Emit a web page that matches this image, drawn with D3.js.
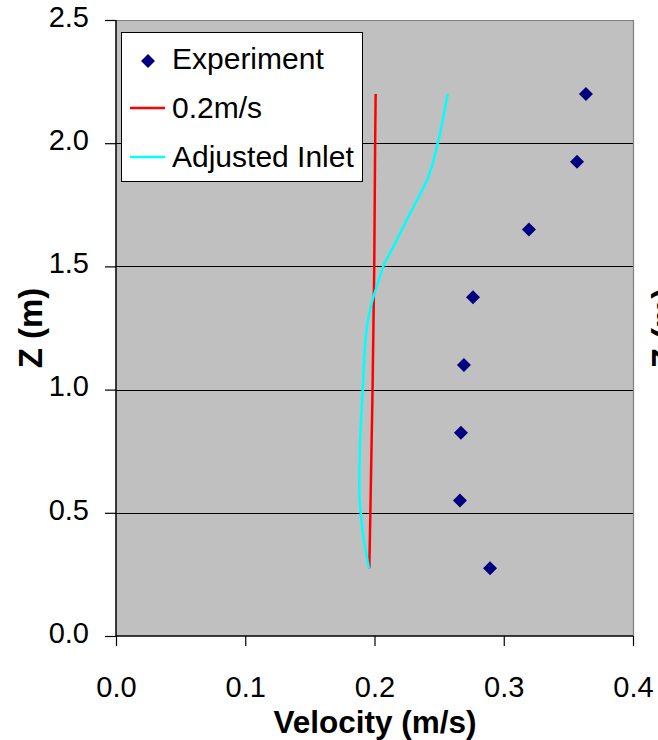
<!DOCTYPE html>
<html>
<head>
<meta charset="utf-8">
<script src="https://cdn.jsdelivr.net/npm/d3@7"></script>
<style>
  html, body { margin: 0; padding: 0; background: #fff; }
  svg { display: block; font-family: "Liberation Sans", Arial, sans-serif; }
</style>
</head>
<body>
<svg id="chart" width="658" height="740"></svg>
<script>
// Measured velocity at each height (diamonds)
const expHeights = [0.275, 0.55, 0.825, 1.1, 1.375, 1.65, 1.925, 2.2];
const expVelocity = [0.2894, 0.2661, 0.2669, 0.2692, 0.2762, 0.3195, 0.3567, 0.3636];

// Simulated profile with uniform 0.2 m/s inlet
const uniformHeights = [0.275, 0.5, 1.0, 1.5, 2.0, 2.2];
const uniformVelocity = [0.1960, 0.1968, 0.1985, 0.1998, 0.2005, 0.2009];

// Simulated profile with adjusted inlet
const adjustedHeights = [0.275, 0.4, 0.5, 0.6, 0.75, 1.0, 1.25, 1.375, 1.45, 1.5, 1.58, 1.715, 1.864, 2.0, 2.2];
const adjustedVelocity = [0.1957, 0.1915, 0.1893, 0.1882, 0.1886, 0.1909, 0.1940, 0.1991, 0.2037, 0.2068, 0.2146, 0.2275, 0.2417, 0.2489, 0.2566];

const xTicks = [0.0, 0.1, 0.2, 0.3, 0.4];
const yTicks = [0.0, 0.5, 1.0, 1.5, 2.0, 2.5];

const legendLabels = ["Experiment", "0.2m/s", "Adjusted Inlet"];

const svg = d3.select("#chart");
const plotLeft = 116, plotRight = 633, plotTop = 20, plotBottom = 636;

const x = d3.scaleLinear().domain([0, 0.4]).range([plotLeft, plotRight]);
const y = d3.scaleLinear().domain([0, 2.5]).range([plotBottom, plotTop]);

// plot area
svg.append("rect")
  .attr("x", plotLeft).attr("y", plotTop)
  .attr("width", plotRight - plotLeft).attr("height", plotBottom - plotTop)
  .attr("fill", "#c0c0c0");

// horizontal gridlines
svg.append("g").selectAll("line")
  .data(yTicks.filter(d => d > 0 && d < 2.5))
  .join("line")
  .attr("x1", plotLeft).attr("x2", plotRight)
  .attr("y1", d => Math.round(y(d)) + 0.5).attr("y2", d => Math.round(y(d)) + 0.5)
  .attr("stroke", "#000").attr("stroke-width", 1);

// plot-area frame (top and right)
svg.append("path")
  .attr("d", `M${plotLeft},${plotTop + 0.5}H${plotRight + 0.5}V${plotBottom}`)
  .attr("fill", "none").attr("stroke", "#808080").attr("stroke-width", 1.2);

// axes
const xAxis = d3.axisBottom(x).tickValues(xTicks).tickSize(10).tickPadding(30)
  .tickFormat(d3.format(".1f"));
const yAxis = d3.axisLeft(y).tickValues(yTicks).tickSize(11).tickPadding(16)
  .tickFormat(d3.format(".1f"));

const gx = svg.append("g").attr("transform", `translate(0,${plotBottom})`).call(xAxis);
const gy = svg.append("g").attr("transform", `translate(${plotLeft},0)`).call(yAxis);
[gx, gy].forEach(g => {
  g.select(".domain").attr("stroke", "#000").attr("stroke-width", 1.5);
  g.selectAll(".tick line").attr("stroke", "#000").attr("stroke-width", 1.2);
  g.selectAll(".tick text").attr("fill", "#000")
    .style("font-family", "'Liberation Sans', Arial, sans-serif")
    .style("font-size", "29px");
});
gy.selectAll(".tick text").attr("dy", "0.22em");
gx.select(".domain").attr("d", `M${plotLeft},0H${plotRight}`);
gy.select(".domain").attr("d", `M0,${plotBottom}V${plotTop}`);

// lines
const lineGen = d3.line().curve(d3.curveMonotoneY);

svg.append("path")
  .datum(uniformHeights.map((h, i) => [x(uniformVelocity[i]), y(h)]))
  .attr("d", lineGen)
  .attr("fill", "none").attr("stroke", "#ff0000").attr("stroke-width", 2.5);

svg.append("path")
  .datum(adjustedHeights.map((h, i) => [x(adjustedVelocity[i]), y(h)]))
  .attr("d", lineGen)
  .attr("fill", "none").attr("stroke", "#00ffff").attr("stroke-width", 2.5);

// experiment markers
const diamond = d3.symbol().type(d3.symbolSquare).size(98);
svg.append("g").selectAll("path")
  .data(expHeights.map((h, i) => [expVelocity[i], h]))
  .join("path")
  .attr("d", diamond)
  .attr("transform", d => `translate(${x(d[0])},${y(d[1])}) rotate(45)`)
  .attr("fill", "#000080");

// legend
const lg = svg.append("g");
lg.append("rect")
  .attr("x", 121.5).attr("y", 32.5).attr("width", 241).attr("height", 149)
  .attr("fill", "#fff").attr("stroke", "#000").attr("stroke-width", 1);
const keyY = [61, 108, 157];
const labelY = [68.5, 118, 167];
lg.append("path").attr("d", diamond)
  .attr("transform", `translate(148,${keyY[0]}) rotate(45)`).attr("fill", "#000080");
lg.append("line").attr("x1", 130).attr("x2", 165).attr("y1", keyY[1]).attr("y2", keyY[1])
  .attr("stroke", "#ff0000").attr("stroke-width", 2.5);
lg.append("line").attr("x1", 130).attr("x2", 165).attr("y1", keyY[2]).attr("y2", keyY[2])
  .attr("stroke", "#00ffff").attr("stroke-width", 2.5);
lg.selectAll("text").data(legendLabels).join("text")
  .attr("x", 172).attr("y", (d, i) => labelY[i])
  .style("font-size", "30px").attr("fill", "#000")
  .text(d => d);

// axis titles
svg.append("text")
  .attr("x", 375).attr("y", 733)
  .attr("text-anchor", "middle")
  .style("font-size", "31.5px").style("font-weight", "bold")
  .text("Velocity (m/s)");

svg.append("text")
  .attr("transform", "translate(42,328) rotate(-90)")
  .attr("text-anchor", "middle")
  .style("font-size", "33px").style("font-weight", "bold")
  .text("Z (m)");

// neighbouring panel's axis title, cut off at the right edge
svg.append("text")
  .attr("transform", "translate(675,328) rotate(-90)")
  .attr("text-anchor", "middle")
  .style("font-size", "33px").style("font-weight", "bold")
  .text("Z (m)");
</script>
</body>
</html>
